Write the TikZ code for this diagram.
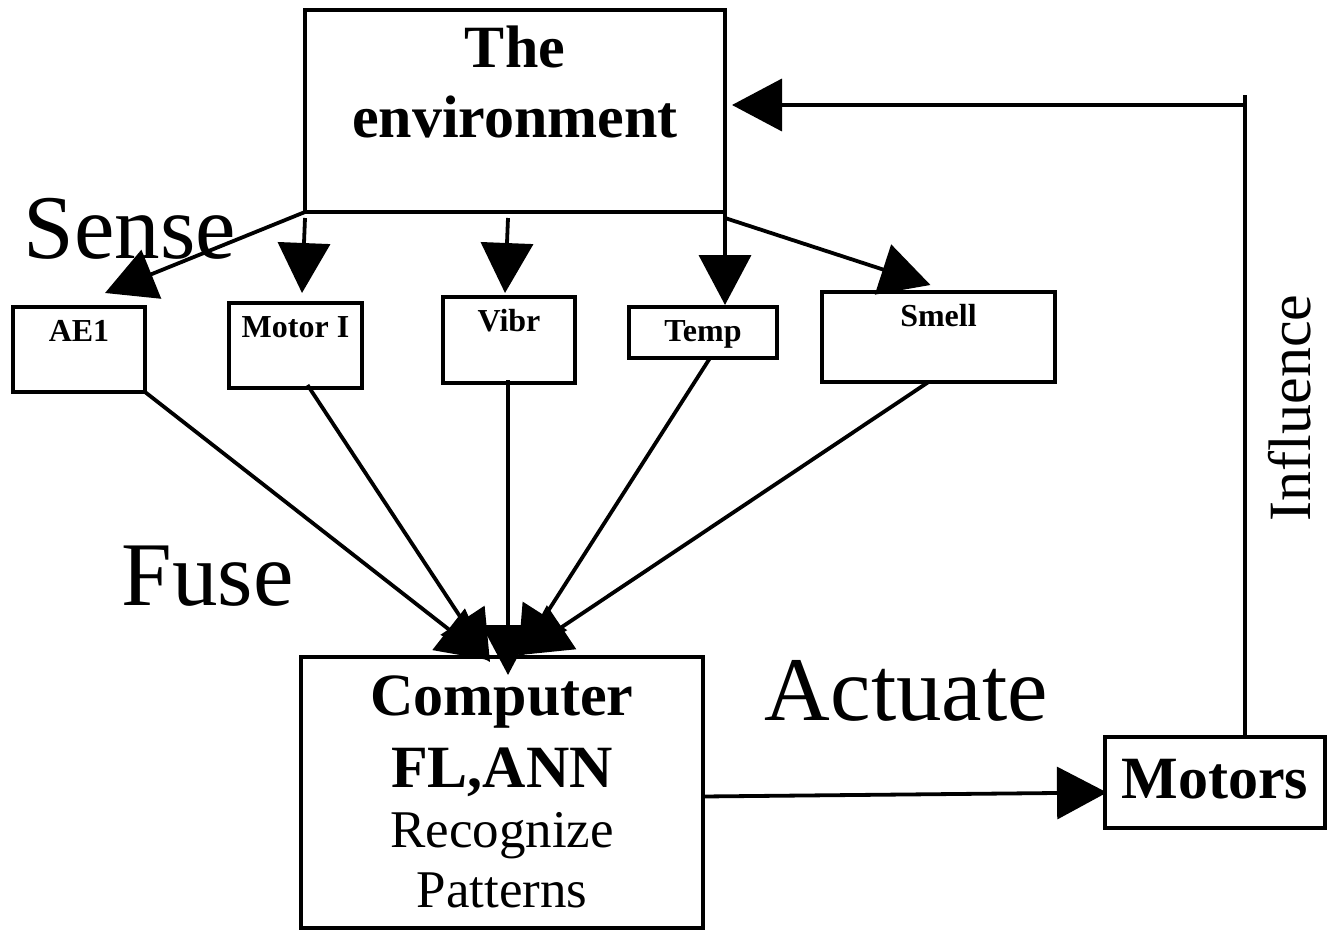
\documentclass[tikz,border=0pt]{standalone}
\usepackage{fontspec}
\setmainfont{Liberation Serif}
\usepackage{tikz}
\usetikzlibrary{calc}
\usetikzlibrary{positioning}
\usetikzlibrary{arrows.meta}
\newcommand{\hugefnt}{\fontsize{91}{91}\selectfont}
\newcommand{\bigfnt}{\fontsize{60}{60}\selectfont}
\newcommand{\midfnt}{\fontsize{53}{60}\selectfont}
\newcommand{\smallfnt}{\fontsize{32}{32}\selectfont}

\begin{document}
\begin{tikzpicture}[x=1pt, y=-1pt, line width=3.8pt]

                \def\c{13pt}

                % Styles for the boxes, the big words and the arrows
                \tikzset{
                    box/.style={draw, rectangle, outer sep=0pt, align=center},
                    sensor/.style={box, font=\smallfnt\bfseries, inner xsep=0pt,
                        inner ysep=\c, text height=21pt, anchor=north},
                    word/.style={font=\hugefnt, inner sep=0pt, anchor=base west},
                    pointer/.style={-{Triangle[length=50pt, width=52pt]}},
                }

                \useasboundingbox (0,0) rectangle (1328,931);

                % Main boxes (text height is taken from the last line)
                \node[box, font=\bigfnt\bfseries, minimum width=420pt,
                    inner ysep=18pt, text height=110pt, text depth=56pt,
                    anchor=north] (env) at (515,10) {The\\[10pt]environment};
                \node[box, font=\bigfnt, minimum width=402pt,
                    inner ysep=18pt, text height=232pt, text depth=3pt,
                    anchor=north] (comp) at (502,657)
                    {\textbf{Computer}\\[12pt]\textbf{FL,ANN}\\
                     {\midfnt Recognize}\\{\midfnt Patterns}};
                \node[box, font=\bigfnt\bfseries, minimum width=220pt,
                    inner ysep=21pt, text height=40pt, text depth=9pt,
                    anchor=north] (motors) at (1215,737) {Motors};

                % Sensors
                \node[sensor, minimum width=132pt, text depth=38pt]
                    (ae1) at (79,307) {AE1};
                \node[sensor, minimum width=133pt, text depth=38pt]
                    (motori) at (295.5,303) {Motor I};
                \node[sensor, minimum width=132pt, text depth=39pt]
                    (vibr) at (509,297) {Vibr};
                \node[sensor, minimum width=148pt, text depth=4pt]
                    (temp) at (703,307) {Temp};
                \node[sensor, minimum width=233pt, text depth=43pt]
                    (smell) at (938.5,292) {Smell};

                % Words
                \node[word] (sense) at (22,258) {Sense};
                \node[word] (fuse) at (120,605) {Fuse};
                \node[word] (actuate) at (763,720) {Actuate};
                \node[font=\bigfnt, rotate=90, inner sep=0pt]
                    (influence) at (1290,408) {Influence};

                \begin{scope}[pointer]
                    \draw (env.south west) -- ($(ae1.north)+(26,-14)$);
                    \draw ($(env.south west)+(0,6)$) -- ($(motori.north)+(6.5,-10)$);
                    \draw ($(env.south)+(-7,6)$) -- ($(vibr.north)+(-4,-4)$);
                    \draw (env.south east) -- ($(temp.north)+(22,-2)$);
                    \draw ($(env.south east)+(0,6)$) -- ($(smell.north)+(-8,-7)$);

                    \draw (ae1.south east) -- ($(comp.north)+(-14,3)$);
                    \draw ($(motori.south)+(12,-3)$) -- ($(comp.north)+(-12,5)$);
                    \draw ($(vibr.south)+(-1,-3)$) -- ($(comp.north)+(6,18)$);
                    \draw ($(temp.south)+(7,0)$) -- ($(comp.north)+(16,1)$);
                    \draw ($(smell.south)+(-10,0)$) -- ($(comp.north)+(18,-2)$);

                    \draw ($(comp.east)+(0,4)$) -- ($(motors.west)+(2,10)$);
                \end{scope}

                % Feedback to the environment
                \coordinate (corner) at (1245,105);
                \draw (motors.north -| corner) -- ($(corner)+(0,-10)$);
                \draw[pointer] (corner) -- ($(env.east |- corner)+(7,0)$);

                \end{tikzpicture}
\end{document}
